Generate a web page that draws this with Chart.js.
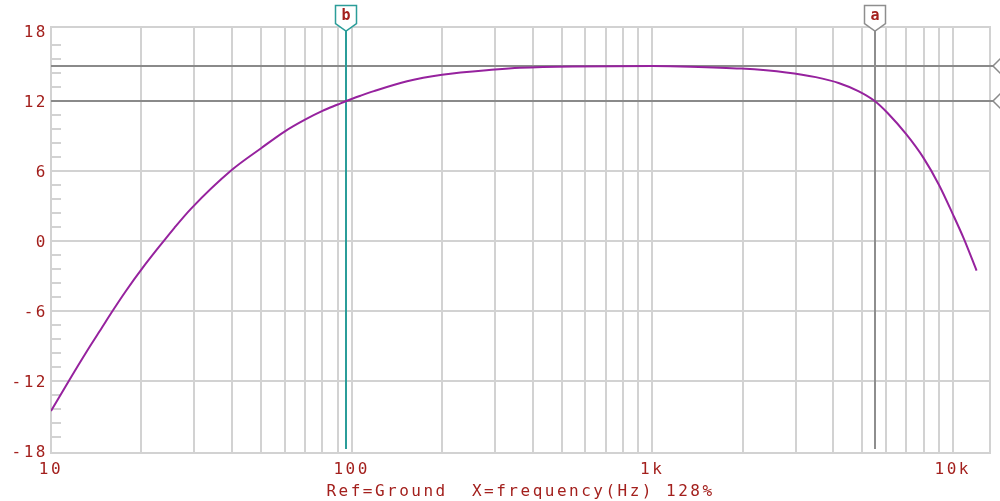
<!DOCTYPE html>
<html>
<head>
<meta charset="utf-8">
<script src="https://cdn.jsdelivr.net/npm/chart.js@4.4.1/dist/chart.umd.min.js"></script>
<style>
  html, body { margin: 0; padding: 0; background: #fff; }
  #plot { display: block; }
</style>
</head>
<body>
<canvas id="plot" width="1000" height="501"></canvas>
<script>
// response curve, gain in dB against frequency in Hz
const freqHz = [10, 11.5, 13.1, 14.85, 15.9, 17.75, 20.2, 22.9, 25.7, 29.2, 40, 50, 60, 70, 80, 90, 96,
  107, 118.6, 153, 200, 300, 363, 545, 1000, 1340, 1980, 2790, 3500, 4170, 4850, 5500, 6070,
  7000, 8000, 9000, 10000, 10900, 12000];
const gainDb = [-14.6, -11.95, -9.55, -7.35, -6.15, -4.3, -2.3, -0.5, 1.1, 2.75, 6.1, 7.95, 9.4, 10.4, 11.15, 11.7, 12.0,
  12.45, 12.85, 13.7, 14.25, 14.7, 14.85, 14.97, 15.0, 14.95, 14.78, 14.45, 14.05, 13.55, 12.85, 12.0, 10.97,
  9.15, 7.1, 4.8, 2.3, 0.15, -2.55];

const decadeTicks = [10, 100, 1000, 10000];
const decadeLabels = ["10", "100", "1k", "10k"];
const yLabels = [-18, -12, -6, 0, 6, 12, 18];

const cursorNames = ["b", "a"];
const cursorFreqs = [96, 5500];
const cursorColors = ["#2b9d99", "#8e8e8e"];
const levelLines = [15, 12];
const axisTitle = "Ref=Ground  X=frequency(Hz) 128%";

const TEXT = "#a3201d";
const GRID = "#d2d2d2";
const FONT = "'DejaVu Sans Mono', monospace";

// 1-2-...-9 grid inside every decade, up to the 10k line
const gridFreqs = [];
decadeTicks.forEach(d => {
  const top = d === 10000 ? 1 : 9;
  for (let m = 1; m <= top; m++) gridFreqs.push(d * m);
});

// minor ticks every 1.2 dB, labelled every 6 dB
const yTicks = [];
for (let k = 0; k <= 30; k++) yTicks.push(Math.round((-18 + k * 1.2) * 10) / 10);
const isMajor = v => yLabels.includes(v);

const scopeDecor = {
  id: "scopeDecor",
  beforeDraw(chart) {
    chart.ctx.letterSpacing = "2.5px";
  },
  beforeDatasetsDraw(chart) {
    const { ctx, chartArea: a, scales: { x, y } } = chart;
    ctx.save();
    ctx.strokeStyle = GRID;
    ctx.lineWidth = 2;
    ctx.strokeRect(a.left, a.top, a.right - a.left, a.bottom - a.top);

    ctx.beginPath();
    yTicks.forEach(v => {
      if (isMajor(v)) return;
      const py = Math.round(y.getPixelForValue(v));
      ctx.moveTo(a.left, py);
      ctx.lineTo(a.left + 10, py);
    });
    ctx.stroke();

    // horizontal level cursors with their handles on the right edge
    ctx.strokeStyle = "#8a8a8a";
    levelLines.forEach(v => {
      const py = Math.round(y.getPixelForValue(v));
      ctx.lineWidth = 2;
      ctx.beginPath();
      ctx.moveTo(a.left, py);
      ctx.lineTo(a.right + 3, py);
      ctx.stroke();
      ctx.lineWidth = 1.5;
      ctx.beginPath();
      ctx.moveTo(1001, py - 8);
      ctx.lineTo(993, py);
      ctx.lineTo(1001, py + 8);
      ctx.stroke();
    });

    // vertical frequency cursors
    cursorFreqs.forEach((f, i) => {
      const px = Math.round(x.getPixelForValue(f));
      ctx.strokeStyle = cursorColors[i];
      ctx.lineWidth = 2;
      ctx.beginPath();
      ctx.moveTo(px, 30);
      ctx.lineTo(px, a.bottom - 4);
      ctx.stroke();
    });
    ctx.restore();
  },
  afterDraw(chart) {
    const { ctx, scales: { x } } = chart;
    ctx.save();
    cursorFreqs.forEach((f, i) => {
      const px = Math.round(x.getPixelForValue(f));
      ctx.beginPath();
      ctx.moveTo(px - 10.5, 5.5);
      ctx.lineTo(px + 10.5, 5.5);
      ctx.lineTo(px + 10.5, 23.5);
      ctx.lineTo(px, 31);
      ctx.lineTo(px - 10.5, 23.5);
      ctx.closePath();
      ctx.fillStyle = "#fff";
      ctx.fill();
      ctx.strokeStyle = cursorColors[i];
      ctx.lineWidth = 1.5;
      ctx.stroke();
      ctx.letterSpacing = "0px";
      ctx.fillStyle = TEXT;
      ctx.font = "bold 15px " + FONT;
      ctx.textAlign = "center";
      ctx.textBaseline = "middle";
      ctx.fillText(cursorNames[i], px, 16);
    });
    ctx.restore();
  }
};

new Chart(document.getElementById("plot"), {
  type: "line",
  data: {
    datasets: [{
      data: freqHz.map((f, i) => ({ x: f, y: gainDb[i] })),
      borderColor: "#96229e",
      borderWidth: 2,
      pointRadius: 0,
      cubicInterpolationMode: "monotone",
      fill: false
    }]
  },
  options: {
    responsive: false,
    animation: false,
    layout: { padding: { top: 27, right: 10, left: 0, bottom: 0 } },
    plugins: { legend: { display: false }, tooltip: { enabled: false } },
    scales: {
      x: {
        type: "logarithmic",
        min: 10,
        max: 13300,
        afterBuildTicks: s => { s.ticks = gridFreqs.map(v => ({ value: v })); },
        afterFit: s => { s.height = 48; },
        border: { display: false },
        grid: { color: GRID, lineWidth: 2, drawTicks: false },
        ticks: {
          autoSkip: false,
          maxRotation: 0,
          padding: 7,
          color: TEXT,
          font: { family: FONT, size: 16 },
          callback: v => {
            const i = decadeTicks.indexOf(v);
            return i >= 0 ? decadeLabels[i] : "";
          }
        },
        title: {
          display: true,
          text: axisTitle,
          color: TEXT,
          font: { family: FONT, size: 16 },
          padding: { top: 0, bottom: 0 }
        }
      },
      y: {
        min: -18.2,
        max: 18.35,
        afterBuildTicks: s => { s.ticks = yTicks.map(v => ({ value: v })); },
        afterFit: s => { s.width = 51; },
        border: { display: false },
        grid: {
          drawTicks: false,
          lineWidth: 2,
          color: c => (isMajor(c.tick.value) && Math.abs(c.tick.value) !== 18 ? GRID : "rgba(0,0,0,0)")
        },
        ticks: {
          autoSkip: false,
          padding: 3,
          labelOffset: 2,
          color: TEXT,
          font: { family: FONT, size: 16 },
          callback: v => (isMajor(v) ? String(v) : "")
        }
      }
    }
  },
  plugins: [scopeDecor]
});
</script>
</body>
</html>
